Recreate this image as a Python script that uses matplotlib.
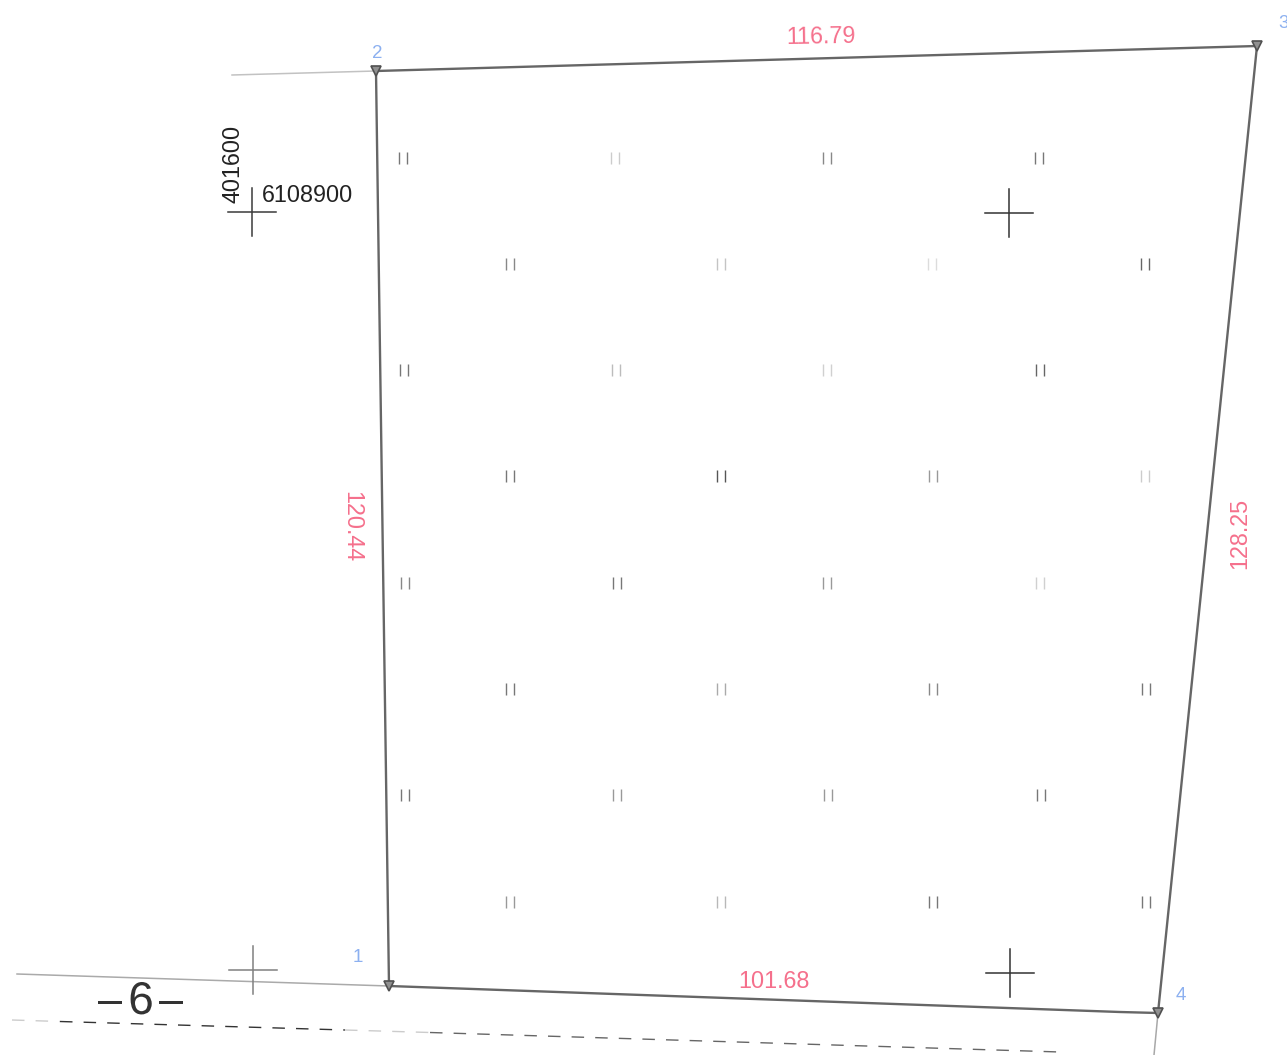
import matplotlib
matplotlib.use("Agg")
from matplotlib import pyplot as plt
from matplotlib.path import Path
import matplotlib.patheffects as pe

plt.rcParams['font.family'] = ['Liberation Sans', 'DejaVu Sans']

# parcel corners, in picture pixels
corner_names = ["1", "2", "3", "4"]
corner_x = [389, 376, 1257, 1158]
corner_y = [986, 71, 46, 1013]
name_x = [358, 377, 1284, 1181]
name_y = [958, 54, 23, 996]

# outline, with the slight bend on the bottom edge
outline_x = [389, 376, 1257, 1158, 1120, 389]
outline_y = [986, 71, 46, 1013, 1012, 986]

# neighbouring lines
left_top_x = [232, 376]
left_top_y = [75, 71]
left_bottom_x = [17, 389]
left_bottom_y = [974, 986]
below_x = [1158, 1154]
below_y = [1013, 1055]

# road centre line, dashes fade in and out
road_faint_x = [12, 60]
road_faint_y = [1020, 1021.5]
road_dark_x = [60, 345]
road_dark_y = [1021.5, 1030]
road_pale_x = [345, 430]
road_pale_y = [1030, 1032.5]
road_mid_x = [430, 1060]
road_mid_y = [1032.5, 1052]

# survey crosses: x, y, grey
cross_x = [252, 1009, 1010, 253]
cross_y = [212, 213, 973, 970]
cross_col = ["#3a3a3a", "#333333", "#333333", "#808080"]

# tree rows
row_y = [158, 264, 370, 476, 583, 689, 795, 902]
row_x = [
    [403, 615, 827, 1039],
    [510, 721, 932, 1145],
    [404, 616, 827, 1040],
    [510, 721, 933, 1145],
    [405, 617, 827, 1040],
    [510, 721, 933, 1146],
    [405, 617, 828, 1041],
    [510, 721, 933, 1146],
]
row_col = [
    ["#777777", "#cccccc", "#888888", "#777777"],
    ["#888888", "#c4c4c4", "#dcdcdc", "#666666"],
    ["#777777", "#bcbcbc", "#d0d0d0", "#666666"],
    ["#777777", "#555555", "#999999", "#cccccc"],
    ["#888888", "#777777", "#999999", "#d0d0d0"],
    ["#777777", "#aaaaaa", "#888888", "#777777"],
    ["#777777", "#999999", "#999999", "#777777"],
    ["#999999", "#b8b8b8", "#777777", "#777777"],
]

# dimensions
dim_labels = ["116.79", "120.44", "128.25", "101.68"]
dim_x = [821, 352, 1240, 774]
dim_y = [37, 527, 533, 981]
dim_rot = [1, -90, 90, 0]

pair_marker = Path([(-3.4, -5), (-3.4, 5), (3.4, -5), (3.4, 5)],
                   [Path.MOVETO, Path.LINETO, Path.MOVETO, Path.LINETO])

fig = plt.figure(figsize=(12.87, 10.55), dpi=100)
ax = fig.add_axes([0, 0, 1, 1])
ax.set_xlim(0, 1287)
ax.set_ylim(1055, 0)
ax.axis("off")

ax.plot(left_top_x, left_top_y, color="#c2c2c2", lw=1.1)
ax.plot(left_bottom_x, left_bottom_y, color="#aaaaaa", lw=1.1)
ax.plot(below_x, below_y, color="#a8a8a8", lw=1.1)
ax.plot(road_faint_x, road_faint_y, color="#cccccc", lw=1, dashes=(9, 8))
ax.plot(road_dark_x, road_dark_y, color="#333333", lw=1, dashes=(9, 8))
ax.plot(road_pale_x, road_pale_y, color="#cccccc", lw=1, dashes=(9, 8))
ax.plot(road_mid_x, road_mid_y, color="#666666", lw=1, dashes=(9, 8))

ax.plot(outline_x, outline_y, color="#666666", lw=1.7, solid_joinstyle="round")
ax.plot(corner_x, corner_y, ls="none", marker="v", ms=7, mfc="#909090",
        mec="#505050", mew=1.2)

for x, y, c in zip(cross_x, cross_y, cross_col):
    ax.plot([x - 24, x + 24], [y, y], color=c, lw=1.1)
    ax.plot([x, x], [y - 24, y + 24], color=c, lw=1.1)

for y, xs, cols in zip(row_y, row_x, row_col):
    for x, c in zip(xs, cols):
        ax.plot(x, y, ls="none", marker=pair_marker, ms=8, mew=1, mfc="none", mec=c)

for s, x, y, r in zip(dim_labels, dim_x, dim_y, dim_rot):
    ax.text(x, y, s, color="#f5708c", fontsize=16.8, rotation=r,
            ha="center", va="center")

for s, x, y in zip(corner_names, name_x, name_y):
    ax.text(x, y, s, color="#8cb0f0", fontsize=13.5, ha="center", va="center")

ax.text(262, 195, "6108900", color="#222222", fontsize=16.8, ha="left", va="center")
ax.text(233, 164, "401600", color="#222222", fontsize=16.8, rotation=90,
        ha="center", va="center")

thin = [pe.withStroke(linewidth=2.4, foreground="white")]
ax.text(141, 1002, "6", color="#333333", fontsize=33, ha="center", va="center",
        path_effects=thin)
ax.text(110, 1002, "–", color="#333333", fontsize=32, ha="center", va="center",
        path_effects=thin)
ax.text(171, 1002, "–", color="#333333", fontsize=32, ha="center", va="center",
        path_effects=thin)

fig.savefig("out.png", dpi=100)
